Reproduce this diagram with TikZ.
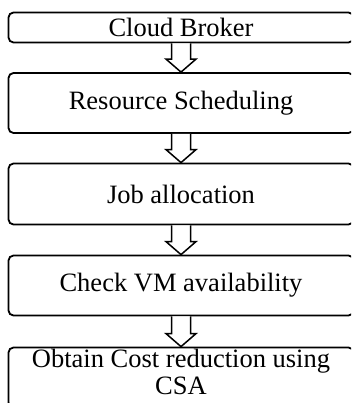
\documentclass[tikz,border=0pt]{standalone}
\usepackage{fontspec}
\setmainfont{Liberation Serif}
\usetikzlibrary{positioning,calc}

\begin{document}
\begin{tikzpicture}[
    node distance=28.7pt,
    box/.style={draw, line width=1.8pt, rounded corners=5pt, align=center,
                minimum width=345pt, inner sep=0pt,
                font=\fontsize{26.5pt}{27pt}\selectfont},
    arr/.style={line width=1.5pt, fill=white}
]
\useasboundingbox (0,0) rectangle (351pt,-403pt);
\clip (0,0) rectangle (351pt,-403pt);

\node[box, minimum height=30pt] (broker) at (181pt,-27.5pt) {Cloud Broker};
\node[box, minimum height=60pt, below=of broker] (sched) {Resource Scheduling};
\node[box, minimum height=61pt, below=of sched] (alloc) {Job allocation};
\node[box, minimum height=60pt, below=29.2pt of alloc] (check) {Check VM availability};
\node[box, minimum height=60pt, text depth=12pt, below=30.2pt of check] (cost)
    {Obtain Cost reduction using\\CSA};

% hollow block arrows between the steps
\draw[arr] ($(broker.south)+(-9.5pt,0)$) -- ($(sched.north)+(-9.5pt,13pt)$) -- ++(-5.5pt,0) -- (sched.north) -- ++(15pt,13pt) -- ++(-5.5pt,0) -- ($(broker.south)+(9.5pt,0)$);
\draw[arr] ($(sched.south)+(-9.5pt,0)$) -- ($(alloc.north)+(-9.5pt,13pt)$) -- ++(-5.5pt,0) -- (alloc.north) -- ++(15pt,13pt) -- ++(-5.5pt,0) -- ($(sched.south)+(9.5pt,0)$);
\draw[arr] ($(alloc.south)+(-9.5pt,0)$) -- ($(check.north)+(-9.5pt,13pt)$) -- ++(-5.5pt,0) -- (check.north) -- ++(15pt,13pt) -- ++(-5.5pt,0) -- ($(alloc.south)+(9.5pt,0)$);
\draw[arr] ($(check.south)+(-9.5pt,0)$) -- ($(cost.north)+(-9.5pt,13pt)$) -- ++(-5.5pt,0) -- (cost.north) -- ++(15pt,13pt) -- ++(-5.5pt,0) -- ($(check.south)+(9.5pt,0)$);

\end{tikzpicture}
\end{document}
